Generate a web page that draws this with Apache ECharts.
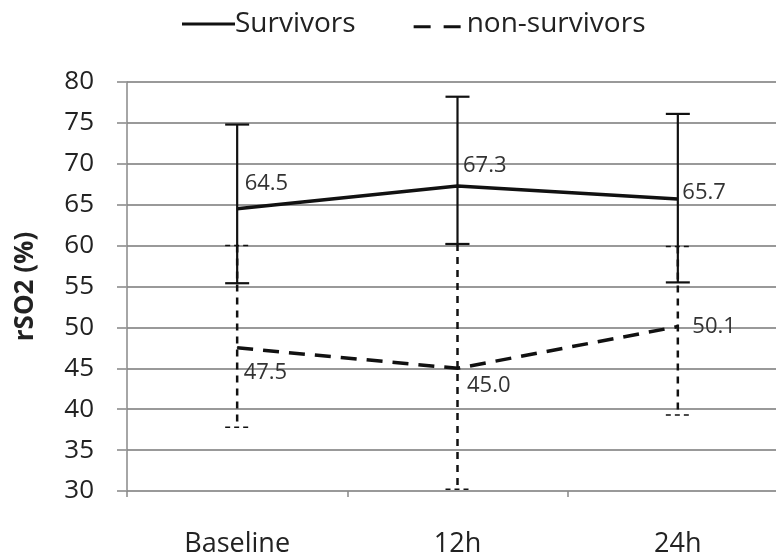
<!DOCTYPE html>
<html><head><meta charset="utf-8">
<script src="https://cdn.jsdelivr.net/npm/echarts@6/dist/echarts.min.js"></script>
<style>html,body{margin:0;padding:0;background:#fff}#c{width:776px;height:559px}</style>
</head><body><div id="c"></div>
<script>
const categories = ['Baseline', '12h', '24h'];
const survivors = [64.5, 67.3, 65.7];
const survivorsUpper = [74.8, 78.2, 76.1];
const survivorsLower = [55.4, 60.2, 55.5];
const nonSurvivors = [47.5, 45.0, 50.1];
const nonSurvivorsUpper = [60.0, 60.2, 59.9];
const nonSurvivorsLower = [37.8, 30.2, 39.3];
const yTicks = [30, 35, 40, 45, 50, 55, 60, 65, 70, 75, 80];

const survLabelOffsets = [[2, -25], [0, -20], [-1, -6]];
const nonLabelOffsets = [[1, 25], [4, 17], [9, 0]];

const FONT = '"Open Sans", sans-serif';
const chart = echarts.init(document.getElementById('c'));

function errRender(upper, lower, dashed) {
  return function (params, api) {
    const i = api.value(0);
    const top = api.coord([i, upper[i]]);
    const bot = api.coord([i, lower[i]]);
    const cw = 12;
    const style = {stroke: '#111', lineWidth: dashed ? 2.5 : 2.2, lineDash: dashed ? [7, 6] : null, fill: null};
    const capStyle = {stroke: '#111', lineWidth: dashed ? 1.5 : 2.2, lineDash: dashed ? [5, 4] : null, fill: null};
    return {
      type: 'group',
      children: [
        {type: 'line', shape: {x1: top[0], y1: top[1], x2: bot[0], y2: bot[1]}, style: style},
        {type: 'line', shape: {x1: top[0] - cw, y1: top[1], x2: top[0] + cw, y2: top[1]}, style: capStyle},
        {type: 'line', shape: {x1: bot[0] - cw, y1: bot[1], x2: bot[0] + cw, y2: bot[1]}, style: capStyle}
      ]
    };
  };
}

function labelled(values, offsets) {
  return values.map((v, i) => ({
    value: v,
    label: {show: true, position: 'right', distance: 5, align: 'left', verticalAlign: 'middle', offset: offsets[i],
      formatter: p => p.value.toFixed(1), color: '#333', fontSize: 22, fontFamily: FONT}
  }));
}

chart.setOption({
  animation: false,
  backgroundColor: '#fff',
  legend: {
    top: 5, left: 177,
    itemWidth: 53, itemHeight: 14, itemGap: 58,
    textStyle: {fontSize: 28, color: '#222', fontFamily: FONT, padding: [0, 0, 0, -5]},
    data: [
      {name: 'Survivors', icon: 'path://M0,5.5 L53,5.5 L53,8.5 L0,8.5 Z', itemStyle: {color: '#111'}},
      {name: 'non-survivors', icon: 'path://M0,5.5 L17,5.5 L17,8.5 L0,8.5 Z M30,5.5 L47,5.5 L47,8.5 L30,8.5 Z M53,0 L53,0.01 Z', itemStyle: {color: '#111'}}
    ]
  },
  grid: {left: 127, top: 82, height: 409, width: 661, outerBoundsMode: 'none', containLabel: false},
  xAxis: {
    type: 'category', data: categories, boundaryGap: true,
    axisLine: {show: false},
    axisTick: {show: true, length: 6, lineStyle: {color: '#888', width: 1.5}},
    axisLabel: {fontSize: 27, color: '#222', fontFamily: FONT, margin: 40}
  },
  yAxis: {
    type: 'value', min: yTicks[0], max: yTicks[yTicks.length - 1], interval: 5,
    name: 'rSO2 (%)', nameLocation: 'middle', nameGap: 88, nameRotate: 90,
    nameTextStyle: {fontSize: 26, fontWeight: 'bold', color: '#222', fontFamily: FONT},
    axisLine: {show: true, lineStyle: {color: '#888', width: 1.5}},
    axisTick: {show: true, inside: false, length: 10, lineStyle: {color: '#999', width: 1.8}},
    axisLabel: {fontSize: 26, color: '#222', fontFamily: FONT, margin: 33},
    splitLine: {lineStyle: {color: '#999', width: 1.8}}
  },
  series: [
    {type: 'custom', name: 'nsErr', renderItem: errRender(nonSurvivorsUpper, nonSurvivorsLower, true),
      data: categories.map((c, i) => [i]), z: 2, silent: true},
    {type: 'custom', name: 'sErr', renderItem: errRender(survivorsUpper, survivorsLower, false),
      data: categories.map((c, i) => [i]), z: 3, silent: true},
    {type: 'line', name: 'Survivors', data: labelled(survivors, survLabelOffsets),
      symbol: 'circle', symbolSize: 1, showSymbol: true,
      lineStyle: {color: '#111', width: 3.5}, itemStyle: {color: '#111'}, z: 4},
    {type: 'line', name: 'non-survivors', data: labelled(nonSurvivors, nonLabelOffsets),
      symbol: 'circle', symbolSize: 1, showSymbol: true,
      lineStyle: {color: '#111', width: 3.5, type: [16, 10]}, itemStyle: {color: '#111'}, z: 4}
  ]
});
</script></body></html>
